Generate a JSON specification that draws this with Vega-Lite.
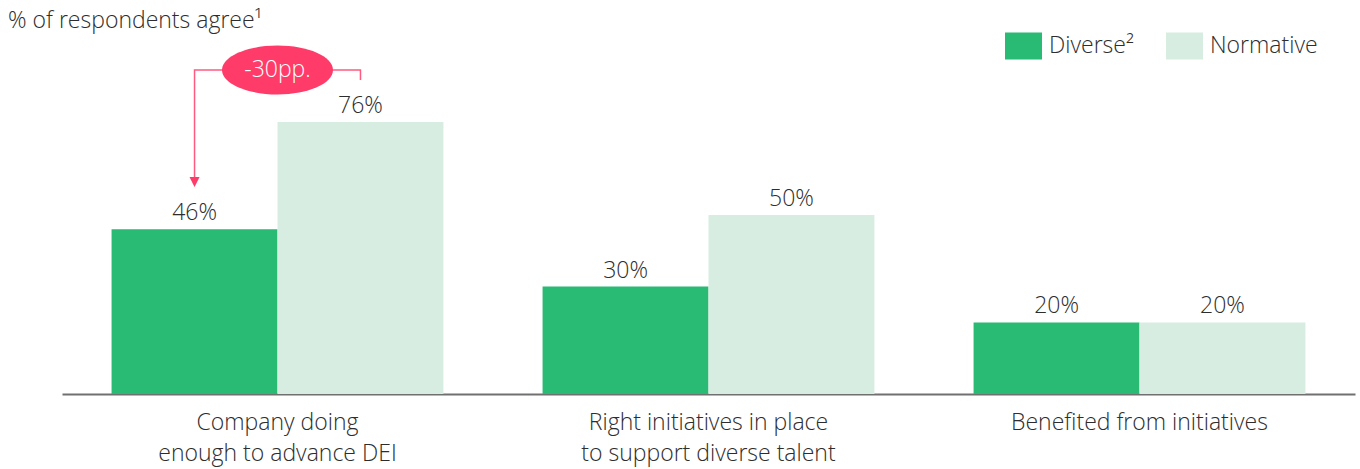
{
  "$schema": "https://vega.github.io/schema/vega-lite/v6.json",
  "width": 1293,
  "height": 358,
  "autosize": "none",
  "padding": {"left": 62, "top": 36, "right": 5, "bottom": 75},
  "background": "white",
  "config": {
    "view": {"stroke": null},
    "font": "Open Sans",
    "text": {"font": "Open Sans", "color": "#2d2d2d"}
  },
  "title": {
    "text": "% of respondents agree¹",
    "anchor": "start",
    "frame": "group",
    "dx": -54,
    "dy": 24,
    "fontSize": 23,
    "fontWeight": 300,
    "font": "Open Sans",
    "color": "#2d2d2d",
    "baseline": "alphabetic",
    "offset": 0
  },
  "datasets": {
    "bars": [
      {"item": "Company doing enough to advance DEI", "group": "Diverse", "value": 46, "label": "46%"},
      {"item": "Company doing enough to advance DEI", "group": "Normative", "value": 76, "label": "76%"},
      {"item": "Right initiatives in place to support diverse talent", "group": "Diverse", "value": 30, "label": "30%"},
      {"item": "Right initiatives in place to support diverse talent", "group": "Normative", "value": 50, "label": "50%"},
      {"item": "Benefited from initiatives", "group": "Diverse", "value": 20, "label": "20%"},
      {"item": "Benefited from initiatives", "group": "Normative", "value": 20, "label": "20%"}
    ],
    "connector": [
      {"item": "Company doing enough to advance DEI", "group": "Diverse", "y": 59.2, "order": 1},
      {"item": "Company doing enough to advance DEI", "group": "Diverse", "y": 90.5, "order": 2},
      {"item": "Company doing enough to advance DEI", "group": "Normative", "y": 90.5, "order": 3},
      {"item": "Company doing enough to advance DEI", "group": "Normative", "y": 87.7, "order": 4}
    ],
    "arrow": [
      {"item": "Company doing enough to advance DEI", "group": "Diverse", "y": 59.2}
    ],
    "badge": [
      {"item": "Company doing enough to advance DEI", "y": 90.5, "label": "-30pp."}
    ]
  },
  "encoding": {
    "x": {
      "field": "item",
      "type": "nominal",
      "sort": null,
      "scale": {"domain": ["Company doing enough to advance DEI", "Right initiatives in place to support diverse talent", "Benefited from initiatives"], "paddingInner": 0.23, "paddingOuter": 0.115},
      "axis": {
        "title": null,
        "ticks": false,
        "labelAngle": 0,
        "labelFontSize": 23,
        "labelFont": "Open Sans",
        "labelFontWeight": 300,
        "labelColor": "#2d2d2d",
        "labelPadding": 17,
        "labelLineHeight": 31,
        "labelLimit": 0,
        "domainColor": "#707070",
        "domainWidth": 2,
        "labelExpr": "datum.value == 'Company doing enough to advance DEI' ? ['Company doing', 'enough to advance DEI'] : datum.value == 'Right initiatives in place to support diverse talent' ? ['Right initiatives in place', 'to support diverse talent'] : datum.value"
      }
    }
  },
  "layer": [
    {
      "data": {"name": "bars"},
      "mark": {"type": "bar"},
      "encoding": {
        "xOffset": {"field": "group", "type": "nominal", "scale": {"domain": ["Diverse", "Normative"], "paddingInner": 0, "paddingOuter": 0}},
        "y": {"field": "value", "type": "quantitative", "scale": {"domain": [0, 100]}, "axis": null},
        "color": {
          "field": "group",
          "type": "nominal",
          "scale": {"domain": ["Diverse", "Normative"], "range": ["#29BA74", "#D7EDE1"]},
          "legend": {
            "title": null,
            "orient": "none",
            "direction": "horizontal",
            "legendX": 943,
            "legendY": -9,
            "symbolType": "M-1,-0.73L1,-0.73L1,0.73L-1,0.73Z",
            "symbolSize": 1369,
            "symbolStrokeWidth": 0,
            "labelFontSize": 23,
            "labelFont": "Open Sans",
            "labelFontWeight": 300,
            "labelColor": "#2d2d2d",
            "labelOffset": 7,
            "columnPadding": 32,
            "labelExpr": "datum.value == 'Diverse' ? 'Diverse²' : datum.value"
          }
        }
      }
    },
    {
      "data": {"name": "bars"},
      "mark": {"type": "text", "fontSize": 23, "fontWeight": 300, "baseline": "alphabetic", "dy": -9, "color": "#2d2d2d"},
      "encoding": {
        "xOffset": {"field": "group", "type": "nominal"},
        "y": {"field": "value", "type": "quantitative"},
        "text": {"field": "label"}
      }
    },
    {
      "data": {"name": "connector"},
      "mark": {"type": "line", "color": "#FF5A80", "strokeWidth": 1.5},
      "encoding": {
        "xOffset": {"field": "group", "type": "nominal"},
        "y": {"field": "y", "type": "quantitative"},
        "order": {"field": "order", "type": "quantitative"}
      }
    },
    {
      "data": {"name": "arrow"},
      "mark": {"type": "point", "shape": "M-1,-1L1,-1L0,1Z", "size": 100, "filled": true, "color": "#FF3C69", "opacity": 1},
      "encoding": {
        "xOffset": {"field": "group", "type": "nominal"},
        "y": {"field": "y", "type": "quantitative"}
      }
    },
    {
      "data": {"name": "badge"},
      "mark": {"type": "point", "shape": "M-1,0A1,0.44,0,1,0,1,0A1,0.44,0,1,0,-1,0Z", "size": 12321, "filled": true, "color": "#FF3C69", "opacity": 1},
      "encoding": {
        "y": {"field": "y", "type": "quantitative"}
      }
    },
    {
      "data": {"name": "badge"},
      "mark": {"type": "text", "fontSize": 23, "fontWeight": 300, "color": "white", "baseline": "middle"},
      "encoding": {
        "y": {"field": "y", "type": "quantitative"},
        "text": {"field": "label"}
      }
    }
  ]
}
